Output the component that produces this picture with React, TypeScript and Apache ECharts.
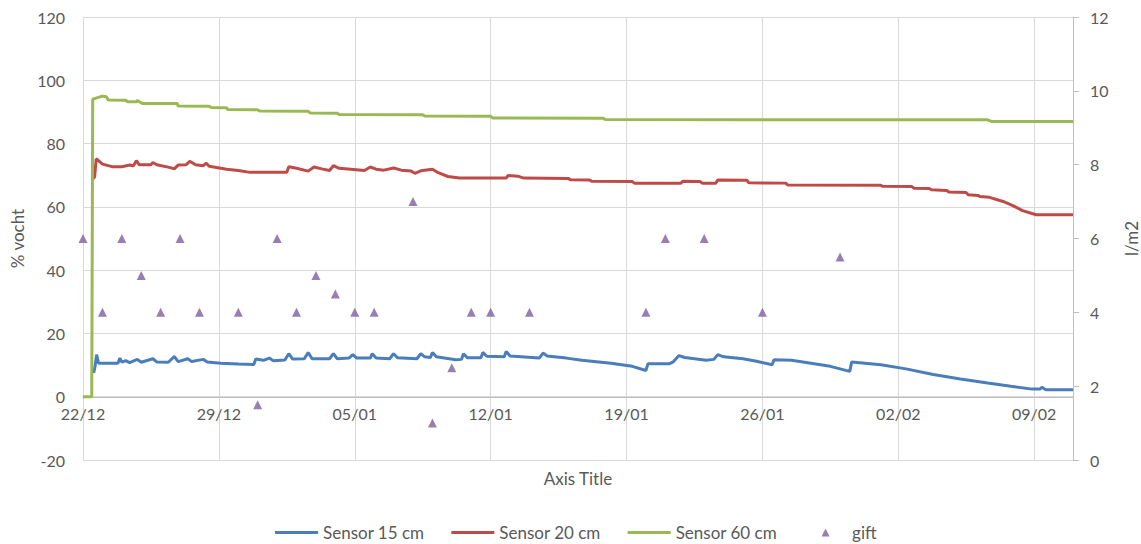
import React, { useEffect, useRef } from "react";
import * as echarts from "echarts";

// x values are days since 22/12
const tickLabels = ["22/12", "29/12", "05/01", "12/01", "19/01", "26/01", "02/02", "09/02"];

const sensor15: [number, number][] = [
  [0.55, 7.5], [0.62, 9.5], [0.7, 13.3], [0.8, 10.6], [1.8, 10.6], [1.9, 12.2], [2.0, 10.9],
  [2.2, 11.4], [2.4, 10.8], [2.8, 11.8], [3.0, 10.9], [3.6, 12.0], [3.8, 11.0], [4.4, 10.9],
  [4.7, 12.7], [4.9, 11.1], [5.4, 12.0], [5.6, 11.1], [6.2, 11.8], [6.4, 11.0], [7.1, 10.6],
  [8.0, 10.3], [8.8, 10.2], [8.9, 11.9], [9.3, 11.5], [9.6, 12.2], [9.8, 11.4], [10.4, 11.6],
  [10.6, 13.6], [10.8, 11.9], [11.4, 12.0], [11.6, 14.0], [11.8, 12.0], [12.7, 12.0], [12.9, 13.6],
  [13.1, 12.0], [13.7, 12.2], [13.9, 13.3], [14.1, 12.2], [14.8, 12.2], [14.9, 13.6], [15.1, 12.2],
  [15.8, 12.0], [16.0, 13.6], [16.2, 12.3], [17.2, 12.0], [17.4, 13.6], [17.6, 12.6], [17.9, 12.4],
  [18.0, 14.0], [18.2, 12.6], [19.2, 11.7], [19.5, 11.8], [19.6, 13.6], [19.8, 12.3], [20.5, 12.3],
  [20.6, 14.0], [20.8, 12.8], [21.7, 12.6], [21.8, 14.3], [22.0, 12.9], [23.5, 12.2], [23.7, 13.8],
  [23.9, 12.9], [24.9, 12.2], [25.7, 11.5], [27.2, 10.6], [28.3, 9.6], [29.0, 8.3], [29.1, 10.4],
  [30.2, 10.4], [30.4, 11.0], [30.7, 13.0], [31.0, 12.4], [32.1, 11.5], [32.5, 11.8], [32.7, 13.3],
  [33.0, 12.6], [34.0, 12.0], [34.7, 11.2], [35.5, 10.1], [35.6, 11.7], [36.5, 11.5], [37.5, 10.6],
  [38.5, 9.6], [39.5, 8.0], [39.6, 11.0], [41.1, 10.1], [42.4, 8.8], [43.8, 7.0], [45.2, 5.6],
  [46.6, 4.3], [47.8, 3.3], [48.9, 2.4], [49.3, 2.4], [49.4, 3.0], [49.6, 2.2], [51, 2.2],
];

const sensor20: [number, number][] = [
  [0.48, 68.6], [0.6, 69.5], [0.68, 75.2], [0.8, 74.6], [1.0, 73.5], [1.5, 72.7], [2.0, 72.7],
  [2.4, 73.2], [2.6, 73.0], [2.75, 74.6], [2.9, 73.3], [3.5, 73.3], [3.6, 74.0], [3.8, 73.3],
  [4.5, 72.4], [4.7, 72.0], [4.9, 73.2], [5.3, 73.3], [5.5, 74.4], [5.8, 73.3], [6.2, 73.0],
  [6.35, 73.8], [6.5, 72.8], [7.4, 71.9], [8.0, 71.5], [8.6, 70.9], [10.5, 70.9], [10.6, 72.7],
  [11.0, 72.2], [11.6, 71.3], [11.9, 72.6], [12.3, 72.0], [12.7, 71.5], [12.9, 73.0], [13.2, 72.2],
  [13.8, 71.9], [14.5, 71.5], [14.8, 72.6], [15.1, 71.9], [15.5, 71.6], [16.0, 72.3], [16.4, 71.6],
  [16.9, 71.3], [17.1, 70.6], [17.4, 71.4], [18.0, 71.9], [18.3, 70.8], [18.8, 69.6], [19.4, 69.1],
  [21.8, 69.1], [21.9, 69.9], [22.4, 69.7], [22.7, 69.1], [25.0, 69.0], [25.1, 68.6], [26.1, 68.5],
  [26.2, 68.1], [28.3, 68.0], [28.4, 67.5], [30.8, 67.5], [30.9, 68.1], [31.8, 68.0], [31.9, 67.5],
  [32.6, 67.5], [32.7, 68.5], [34.2, 68.4], [34.3, 67.6], [36.2, 67.5], [36.3, 66.9], [41.1, 66.8],
  [41.2, 66.5], [42.7, 66.4], [42.8, 65.9], [43.6, 65.8], [43.7, 65.4], [44.5, 65.2], [44.6, 64.7],
  [45.5, 64.5], [45.6, 63.8], [46.1, 63.6], [46.2, 63.3], [46.7, 63.0], [47.4, 61.7], [47.9, 60.4],
  [48.4, 58.8], [49.1, 57.5], [51, 57.5],
];

const sensor60: [number, number][] = [
  [0, 0], [0.45, 0], [0.5, 94.0], [0.75, 94.5], [1.0, 95.0], [1.2, 94.8], [1.3, 93.8], [2.2, 93.7],
  [2.3, 93.2], [2.75, 93.2], [2.8, 93.6], [2.9, 93.2], [3.05, 92.7], [4.85, 92.7], [4.9, 91.9],
  [6.5, 91.8], [6.6, 91.4], [7.4, 91.3], [7.45, 90.8], [9.0, 90.7], [9.1, 90.3], [11.6, 90.2],
  [11.7, 89.7], [13.1, 89.6], [13.2, 89.2], [17.5, 89.1], [17.6, 88.7], [21.0, 88.6], [21.1, 88.1],
  [26.8, 88.0], [26.9, 87.6], [46.6, 87.5], [46.8, 87.0], [51, 87.0],
];

const giftDays = [0, 1, 2, 3, 4, 5, 6, 8, 9, 10, 11, 12, 13, 14, 15, 17, 18, 19, 20, 21, 23, 29, 30, 32, 35, 39];
const giftValues = [6, 4, 6, 5, 4, 6, 4, 4, 1.5, 6, 4, 5, 4.5, 4, 4, 7, 1, 2.5, 4, 4, 4, 4, 6, 6, 4, 5.5];

const FONT = "Lato";
const TEXT = "#595959";
const GRID = "#D9D9D9";
const LINE_ICON = "path://M0,0 L43,0 L43,3 L0,3 Z";
const TRI_ICON = "path://M0,0 M43,8 M17.5,8 L21.5,0 L25.5,8 Z";

export default function App() {
  const ref = useRef<HTMLDivElement>(null);
  useEffect(() => {
    if (!ref.current) return;
    const chart = echarts.init(ref.current, undefined, { renderer: "svg" });
    const gift = giftDays.map((d, i) => [d, giftValues[i]]);
    chart.setOption({
      animation: false,
      textStyle: { fontFamily: FONT, color: TEXT },
      grid: { left: 83, right: 68, top: 17, bottom: 84, containLabel: false, outerBoundsMode: "none" },
      legend: {
        top: 519,
        left: 270,
        itemWidth: 43,
        itemHeight: 8,
        itemGap: 27,
        itemStyle: { borderWidth: 0 },
        textStyle: { fontFamily: FONT, fontSize: 17, color: TEXT },
        data: [
          { name: "Sensor 15 cm", icon: LINE_ICON },
          { name: "Sensor 20 cm", icon: LINE_ICON },
          { name: "Sensor 60 cm", icon: LINE_ICON },
          { name: "gift", icon: TRI_ICON },
        ],
      },
      xAxis: {
        type: "value",
        min: 0,
        max: 51,
        interval: 7,
        offset: -63,
        name: "Axis Title",
        nameLocation: "middle",
        nameGap: 73,
        nameMoveOverlap: false,
        nameTextStyle: { fontFamily: FONT, fontSize: 17, color: TEXT },
        axisLine: { show: true, onZero: false, lineStyle: { color: "#BFBFBF", width: 1 } },
        axisTick: { show: false },
        axisLabel: {
          fontFamily: FONT,
          fontSize: 16,
          color: TEXT,
          margin: 8,
          showMaxLabel: false,
          formatter: (v: number) => (v % 7 === 0 ? tickLabels[v / 7] ?? "" : ""),
        },
        splitLine: { show: true, lineStyle: { color: GRID, width: 1 } },
      },
      yAxis: [
        {
          type: "value",
          min: -20,
          max: 120,
          interval: 20,
          name: "% vocht",
          nameLocation: "middle",
          nameGap: 56,
          nameTextStyle: { fontFamily: FONT, fontSize: 17, color: TEXT },
          axisLine: { show: false },
          axisTick: { show: false },
          axisLabel: { fontFamily: FONT, fontSize: 16, color: TEXT, margin: 18 },
          splitLine: { show: true, lineStyle: { color: GRID, width: 1 } },
        },
        {
          type: "value",
          min: 0,
          max: 12,
          interval: 2,
          position: "right",
          name: "l/m2",
          nameLocation: "middle",
          nameGap: 50,
          nameTextStyle: { fontFamily: FONT, fontSize: 17, color: TEXT },
          axisLine: { show: true, lineStyle: { color: "#BFBFBF", width: 1 } },
          axisTick: { show: true, inside: false, length: 6, lineStyle: { color: "#BFBFBF" } },
          axisLabel: { fontFamily: FONT, fontSize: 16, color: TEXT, margin: 17 },
          splitLine: { show: false },
        },
      ],
      series: [
        {
          name: "Sensor 15 cm",
          type: "line",
          symbol: "none",
          data: sensor15,
          color: "#4A7EBB",
          lineStyle: { width: 3, color: "#4A7EBB" },
          z: 3,
        },
        {
          name: "Sensor 20 cm",
          type: "line",
          symbol: "none",
          data: sensor20,
          color: "#BE4B48",
          lineStyle: { width: 3, color: "#BE4B48" },
          z: 3,
        },
        {
          name: "Sensor 60 cm",
          type: "line",
          symbol: "none",
          data: sensor60,
          color: "#98B954",
          lineStyle: { width: 3, color: "#98B954" },
          z: 3,
        },
        {
          name: "gift",
          type: "scatter",
          yAxisIndex: 1,
          symbol: "triangle",
          symbolSize: 9,
          data: gift,
          color: "#7D5FA0",
          itemStyle: { color: "#7D5FA0" },
          z: 4,
        },
      ],
    });
    return () => chart.dispose();
  }, []);
  return (
    <div
      ref={ref}
      style={{ position: "fixed", left: 0, top: 0, width: 1141, height: 544, background: "#fff" }}
    />
  );
}
